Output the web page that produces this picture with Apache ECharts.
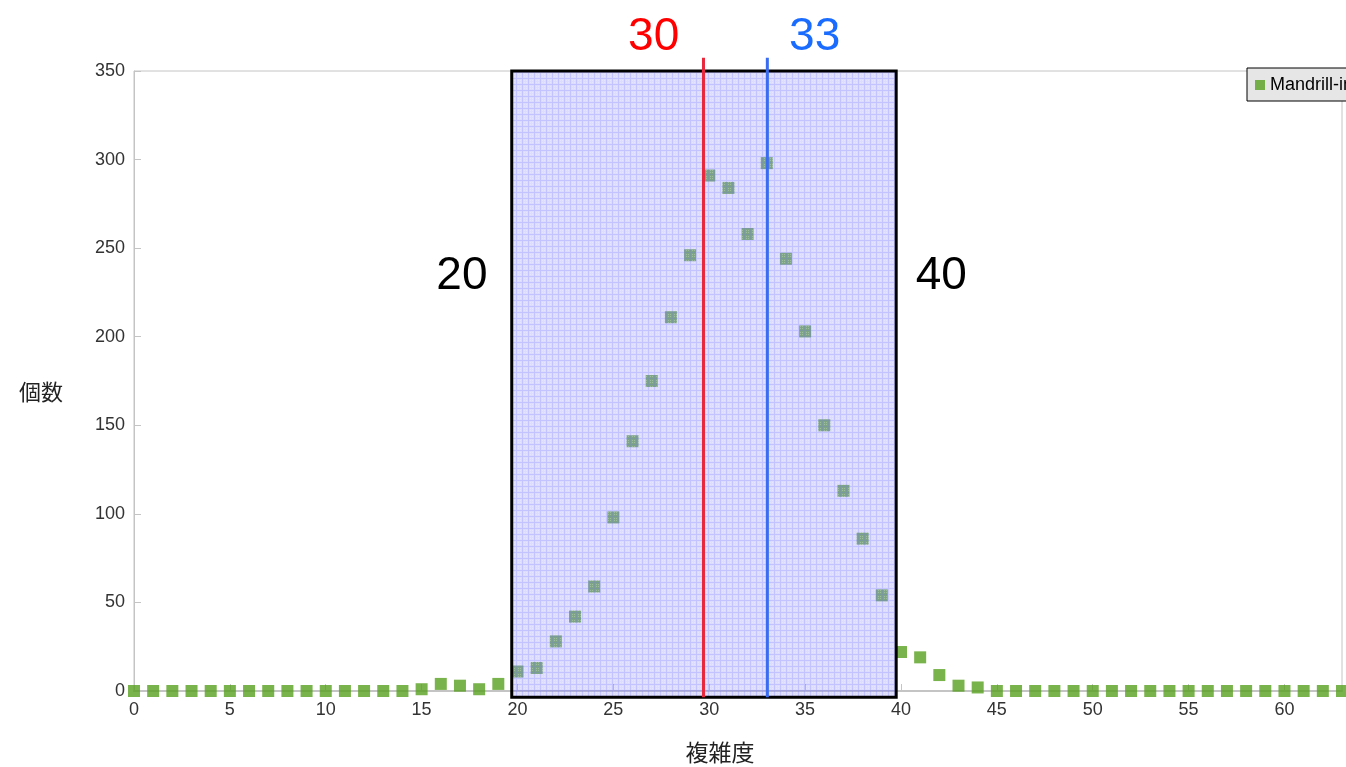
<!DOCTYPE html>
<html>
<head>
<meta charset="utf-8">
<script src="https://cdn.jsdelivr.net/npm/echarts@6/dist/echarts.min.js"></script>
<style>
html,body{margin:0;padding:0;background:#fff;}
#chart{width:1346px;height:767px;}
</style>
</head>
<body>
<div id="chart"></div>
<script>
// ---- data ----
const complexity = Array.from({length: 64}, (_, i) => i); // x categories 0..63
const counts = [
  0,0,0,0,0,0,0,0,0,0,
  0,0,0,0,0,1,4,3,1,4,
  11,13,28,42,59,98,141,175,211,246,
  291,284,258,298,244,203,150,113,86,54,
  22,19,9,3,2,0,0,0,0,0,
  0,0,0,0,0,0,0,0,0,0,
  0,0,0,0
];
const seriesName = 'Mandrill-image';
const xTickInterval = 5;
const yTicks = [0, 50, 100, 150, 200, 250, 300, 350];
const bandRange = [19.7, 39.75, -3.5, 350];   // highlighted range (20 .. 40): x0, x1, y0, y1
const markerLines = [29.7, 33.03];            // red (30) and blue (33)
const markerSpan = [-3.5, 357.5];
const annotations = [
  {text: '20', x: 17.1, y: 234},
  {text: '40', x: 42.1, y: 234},
  {text: '30', x: 27.1, y: 369},
  {text: '33', x: 35.5, y: 369}
];

// ---- styles ----
const green = '#58a01e';
const annColors = ['#000000', '#000000', '#ff0000', '#1a6cff'];
const lineColors = ['#e8283c', '#3a6cf0'];

function makePattern() {
  const c = document.createElement('canvas');
  c.width = 6; c.height = 6;
  const g = c.getContext('2d');
  g.fillStyle = 'rgba(140,140,255,0.30)';
  g.fillRect(0, 0, 6, 6);
  g.fillStyle = 'rgba(110,110,255,0.22)';
  g.fillRect(0, 0, 6, 1);
  g.fillRect(0, 1, 1, 5);
  g.fillStyle = 'rgba(255,255,255,0.25)';
  g.fillRect(2, 2, 1, 1); g.fillRect(4, 4, 1, 1); g.fillRect(2, 4, 1, 1); g.fillRect(4, 2, 1, 1);
  return c;
}
const pattern = makePattern();

const chart = echarts.init(document.getElementById('chart'), null, {renderer: 'canvas'});
const fontLatin = '"Liberation Sans", Arial, sans-serif';
const fontCJK = '"Noto Sans CJK JP", sans-serif';

const option = {
  backgroundColor: '#ffffff',
  animation: false,
  grid: {left: 134, top: 71, right: 4, bottom: 76, outerBoundsMode: 'none', containLabel: false,
         show: true, borderColor: '#c4c4c4', borderWidth: 1},
  legend: {
    data: [{name: seriesName, icon: 'rect'}],
    left: 1247, top: 68,
    itemWidth: 10, itemHeight: 10, itemGap: 6,
    padding: [8, 8, 7, 8],
    backgroundColor: '#e6e6e6', borderColor: '#000', borderWidth: 1,
    textStyle: {fontFamily: fontLatin, fontSize: 18, color: '#000'}
  },
  xAxis: {
    type: 'value', min: 0, max: 63, interval: xTickInterval,
    name: '複雑度', nameLocation: 'middle', nameGap: 50,
    nameTextStyle: {fontFamily: fontCJK, fontSize: 23, color: '#222', padding: [0, 36, 0, 0]},
    axisLine: {show: true, lineStyle: {color: '#c4c4c4', width: 2}},
    axisTick: {show: true, inside: true, length: 7, lineStyle: {color: '#c4c4c4'}},
    axisLabel: {showMaxLabel: false, fontFamily: fontLatin, fontSize: 18, color: '#333', margin: 10},
    splitLine: {show: false}
  },
  yAxis: {
    type: 'value', min: yTicks[0], max: yTicks[yTicks.length - 1], interval: yTicks[1] - yTicks[0],
    name: '個数', nameLocation: 'middle', nameGap: 71, nameRotate: 0,
    nameTextStyle: {fontFamily: fontCJK, fontSize: 22, color: '#222', verticalAlign: 'top'},
    axisLine: {show: true, lineStyle: {color: '#c4c4c4', width: 1}},
    axisTick: {show: true, inside: true, length: 7, lineStyle: {color: '#c4c4c4'}},
    axisLabel: {fontFamily: fontLatin, fontSize: 18, color: '#333', margin: 9},
    splitLine: {show: false}
  },
  series: [
    {
      name: seriesName, type: 'scatter', symbol: 'rect', symbolSize: 12,
      itemStyle: {color: green},
      data: complexity.map((x, i) => [x, counts[i]]),
      z: 2
    },
    {
      name: 'band', type: 'custom', clip: false, silent: true, z: 5,
      data: [bandRange],
      renderItem: function (params, api) {
        const p0 = api.coord([api.value(0), api.value(3)]);
        const p1 = api.coord([api.value(1), api.value(2)]);
        return {
          type: 'rect',
          shape: {x: p0[0], y: p0[1], width: p1[0] - p0[0], height: p1[1] - p0[1]},
          style: {fill: {image: pattern, repeat: 'repeat'}, stroke: '#000', lineWidth: 3}
        };
      }
    },
    {
      name: 'markers', type: 'custom', clip: false, silent: true, z: 6,
      data: markerLines.map((v, i) => [v, markerSpan[0], markerSpan[1], i]),
      renderItem: function (params, api) {
        const a = api.coord([api.value(0), api.value(1)]);
        const b = api.coord([api.value(0), api.value(2)]);
        return {
          type: 'line',
          shape: {x1: a[0], y1: a[1], x2: b[0], y2: b[1]},
          style: {stroke: lineColors[api.value(3)], lineWidth: 3}
        };
      }
    },
    {
      name: 'annotations', type: 'custom', clip: false, silent: true, z: 7,
      data: annotations.map((a, i) => [a.x, a.y, i]),
      renderItem: function (params, api) {
        const p = api.coord([api.value(0), api.value(1)]);
        const idx = api.value(2);
        return {
          type: 'text',
          x: p[0], y: p[1],
          style: {text: annotations[idx].text, fill: annColors[idx], font: '46px ' + fontLatin, align: 'center', verticalAlign: 'middle'}
        };
      }
    }
  ]
};
chart.setOption(option);
</script>
</body>
</html>
